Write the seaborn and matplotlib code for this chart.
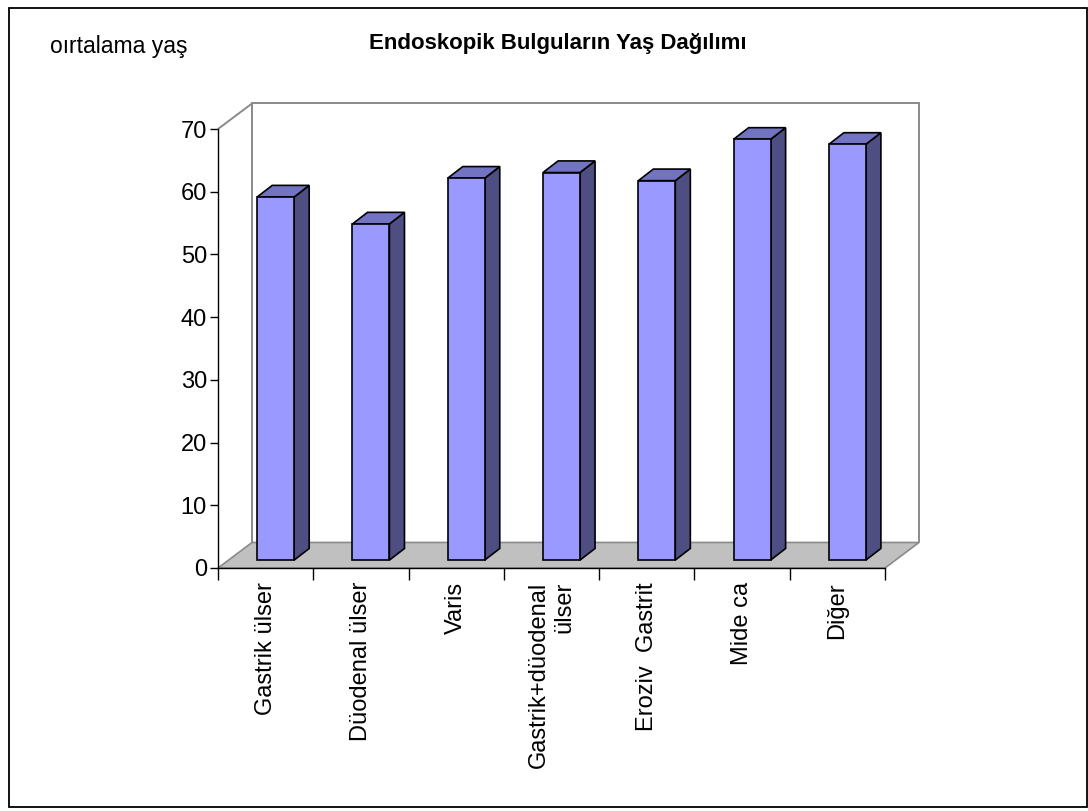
import numpy as np
import matplotlib
matplotlib.use("Agg")
import matplotlib.pyplot as plt
from matplotlib.patches import Polygon, Rectangle
from matplotlib.lines import Line2D
from matplotlib.transforms import Affine2D
import seaborn as sns

# --- data -------------------------------------------------------------
categories = ["Gastrik ülser", "Düodenal ülser", "Varis", "Gastrik+düodenal\nülser",
              "Eroziv  Gastrit", "Mide ca", "Diğer"]
mean_age = [57.9, 53.6, 60.9, 61.8, 60.5, 67.1, 66.3]
y_ticks = [0, 10, 20, 30, 40, 50, 60, 70]
title = "Endoskopik Bulguların Yaş Dağılımı"
y_title = "oırtalama yaş"

# --- style ------------------------------------------------------------
sns.set_style("white")
plt.rcParams["font.family"] = ["Liberation Sans", "DejaVu Sans"]
plt.rcParams["text.color"] = "black"
plt.rcParams["xtick.color"] = "black"
plt.rcParams["ytick.color"] = "black"

W, H = 1088, 811
fig = plt.figure(figsize=(W / 100, H / 100), dpi=100)
fig.patch.set_facecolor("white")

# front plane of the pseudo-3D chart box
x0p, x1p, y0p, y1p = 218, 885, 568, 129
ax = fig.add_axes([x0p / W, 1 - y0p / H, (x1p - x0p) / W, (y0p - y1p) / H])
ax.set_facecolor("none")

FRONT = "#9999FF"
TOP = "#7373C4"
SIDE = "#4E4E82"
WALL = "#8A8A8A"
FLOOR = "#C0C0C0"

sns.barplot(x=categories, y=mean_age, width=0.388, color=FRONT, saturation=1,
            edgecolor="black", linewidth=1.2, ax=ax, zorder=5)

ax.set_xlim(-0.5, 6.5)
ax.set_ylim(0, 70)

# depth of the box (data units) and the position of the bars inside it
DEPTH_X, DEPTH_Y = 0.357, 4.07
FACE_X, FACE_Y = 0.105, 1.26      # front face of each bar
BAR_X, BAR_Y = 0.158, 1.85        # thickness of each bar

# floor
floor = Polygon([(-0.5, 0), (6.5, 0), (6.5 + DEPTH_X, DEPTH_Y), (-0.5 + DEPTH_X, DEPTH_Y)],
                closed=True, facecolor=FLOOR, edgecolor=WALL, linewidth=1.2,
                zorder=1, clip_on=False)
ax.add_patch(floor)

# back wall outline
bx0, bx1 = -0.5 + DEPTH_X, 6.5 + DEPTH_X
by0, by1 = DEPTH_Y, 70 + DEPTH_Y
for xs, ys in [([bx0, bx0], [by0, by1]),
               ([bx0, bx1], [by1, by1]),
               ([bx1, bx1], [by1, by0]),
               ([-0.5, bx0], [70, by1])]:
    ax.add_line(Line2D(xs, ys, color=WALL, linewidth=1.4, zorder=2, clip_on=False))

# give every bar its side and top faces
shift = Affine2D().translate(FACE_X, FACE_Y) + ax.transData
for bar in list(ax.patches):
    if bar is floor:
        continue
    bar.set_transform(shift)
    bar.set_clip_on(False)
    bx, bw, bh = bar.get_x(), bar.get_width(), bar.get_height()
    fx0, fx1 = bx + FACE_X, bx + bw + FACE_X
    fy0, fy1 = FACE_Y, FACE_Y + bh
    side = Polygon([(fx1, fy0), (fx1 + BAR_X, fy0 + BAR_Y), (fx1 + BAR_X, fy1 + BAR_Y), (fx1, fy1)],
                   closed=True, facecolor=SIDE, edgecolor="black", linewidth=1.2,
                   zorder=4, clip_on=False)
    top = Polygon([(fx0, fy1), (fx1, fy1), (fx1 + BAR_X, fy1 + BAR_Y), (fx0 + BAR_X, fy1 + BAR_Y)],
                  closed=True, facecolor=TOP, edgecolor="black", linewidth=1.2,
                  zorder=4, clip_on=False)
    ax.add_patch(side)
    ax.add_patch(top)

# axes
for s in ["top", "right"]:
    ax.spines[s].set_visible(False)
for s in ["left", "bottom"]:
    ax.spines[s].set_color("black")
    ax.spines[s].set_linewidth(1.0)
    ax.spines[s].set_zorder(6)

ax.set_yticks(y_ticks)
ax.set_yticklabels([str(v) for v in y_ticks])
ax.tick_params(axis="y", direction="out", length=6, width=1, color="black",
               labelcolor="black", labelsize=17, pad=2, left=True)

ax.set_xticks(np.arange(-0.5, 7, 1))
ax.set_xticklabels([])
ax.set_xticks(range(len(categories)), labels=categories, minor=True)
ax.tick_params(axis="x", which="major", direction="out", length=8.5, width=1,
               color="black", bottom=True)
ax.tick_params(axis="x", which="minor", length=0, pad=10, labelsize=17,
               labelcolor="black", labelrotation=90, bottom=True)
for lbl in ax.get_xticklabels(minor=True):
    lbl.set_multialignment("right")
ax.set_xlabel("")
ax.set_ylabel("")

# titles
fig.text(558 / W, 1 - 43 / H, title, fontsize=16, fontweight="bold",
         ha="center", va="center", color="black")
fig.text(50 / W, 1 - 46 / H, y_title, fontsize=16.5, ha="left", va="center",
         color="black")

# outer frame
fig.add_artist(Rectangle((8.5 / W, 4 / H), (1087 - 8.5) / W, (803 - 4) / H,
                         transform=fig.transFigure, fill=False,
                         edgecolor="black", linewidth=1.3))

fig.savefig("out.png", dpi=100)
